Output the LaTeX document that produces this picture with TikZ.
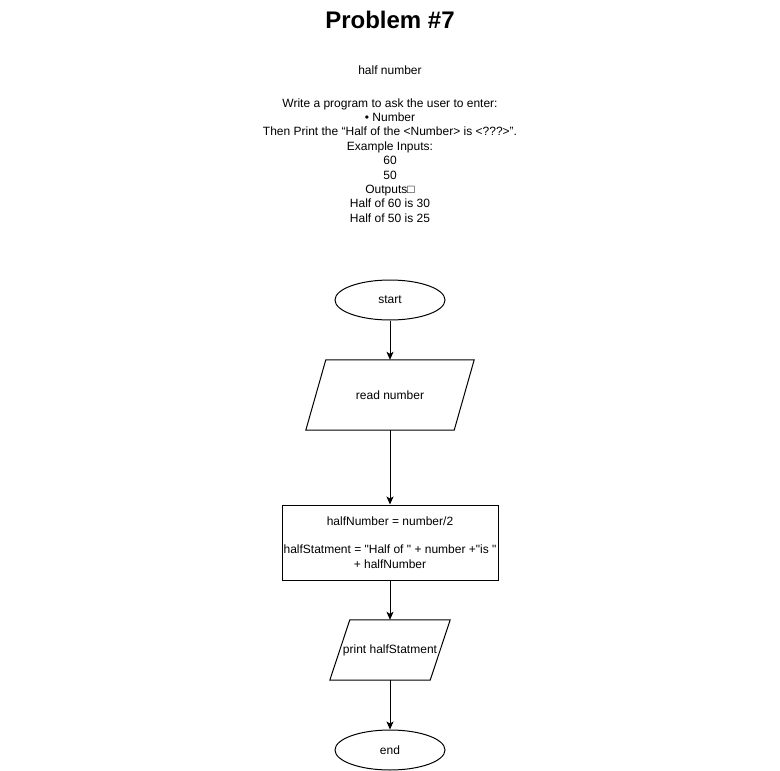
\documentclass[tikz,border=0pt]{standalone}
\usepackage{fontspec}
\setmainfont{Liberation Sans}[Ligatures=TeXOff]
\usepackage{tikz}
\usetikzlibrary{shapes,arrows,arrows.meta,positioning,shapes.geometric}
\tikzstyle{arrow} = [
    line width=1pt,
    -{Stealth[length=8pt,width=7pt,inset=2pt]},
    draw=black
]
\tikzstyle{terminal} = [
    ellipse,
    minimum width=110pt,
    minimum height=40pt,
    inner sep=0pt,
    draw=black,
    line width=1pt,
    font=\fontsize{12}{14.4}\selectfont
]
\tikzstyle{io} = [
    rectangle,
    inner sep=0pt,
    font=\fontsize{12}{14.4}\selectfont
]
\tikzstyle{slanted} = [
    draw=black,
    line width=1pt
]
\tikzstyle{process} = [
    rectangle,
    minimum width=216pt,
    minimum height=75pt,
    inner sep=1pt,
    align=center,
    draw=black,
    line width=1pt,
    font=\fontsize{12}{14.4}\selectfont
]
\tikzstyle{note} = [
    align=center,
    inner sep=0pt,
    font=\fontsize{12}{14.4}\selectfont
]

\begin{document}
\begin{tikzpicture}[x=1pt,y=-1pt]
    \useasboundingbox (0,0) rectangle (780,771);
    % heading and task text
    \node[font=\fontsize{24}{28}\selectfont\bfseries] (title) at (390,20) {Problem \#7};
    \node[note] (name) at (390,70) {half number};
    \node[note] (task) at (390,160.5) {Write a program to ask the user to enter:\\
        • Number\\
        Then Print the “Half of the <Number> is <???>”.\\
        Example Inputs:\\
        60\\
        50\\
        Outputs□\\
        Half of 60 is 30\\
        Half of 50 is 25};
    % flowchart
    \node[terminal] (start) at (390,300) {start};
    \node[io, minimum width=148pt, minimum height=70pt] (read) at (390,395) {read number};
    \draw[slanted] ([xshift=10pt]read.north west) -- ([xshift=10pt]read.north east)
        -- ([xshift=-10pt]read.south east) -- ([xshift=-10pt]read.south west) -- cycle;
    \node[process] (calc) at (390,542.5) {halfNumber = number/2\\[14.4pt]
        halfStatment = "Half of " + number +"is "\\ + halfNumber};
    \node[io, minimum width=100pt, minimum height=60pt] (print) at (390,650) {print halfStatment};
    \draw[slanted] ([xshift=10pt]print.north west) -- ([xshift=10pt]print.north east)
        -- ([xshift=-10pt]print.south east) -- ([xshift=-10pt]print.south west) -- cycle;
    \node[terminal] (end) at (390,750) {end};
    \draw[arrow] (start) -- (read);
    \draw[arrow] (read) -- (calc);
    \draw[arrow] (calc) -- (print);
    \draw[arrow] (print) -- (end);
\end{tikzpicture}
\end{document}
